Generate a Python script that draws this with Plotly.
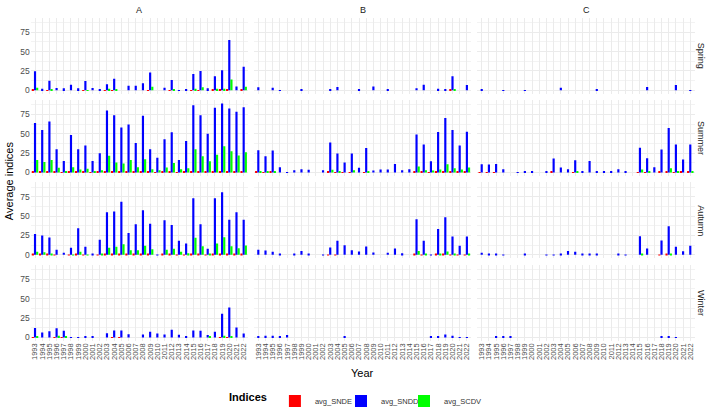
import plotly.graph_objects as go
from plotly.subplots import make_subplots

years = list(range(1993, 2023))
year_labels = [str(y) for y in years]
panels = ["A", "B", "C"]
seasons = ["Spring", "Summer", "Autumn", "Winter"]
series_names = ["avg_SNDE", "avg_SNDD", "avg_SCDV"]
series_colors = ["#FF0000", "#0000FF", "#00FF00"]
y_ticks = [0, 25, 50, 75]

Z = [0] * 30

# ---------- Panel A ----------
snde_A_spring = [1, 0, 0.5, 0, 0, 0, 0, 0.5, 0, 0, 0.5, 0.5, 0, 0, 0, 0, 0.5, 0, 0, 0.5, 0, 0, 0.5, 0.5, 0, 1, 1.5, 1, 0, 1]
sndd_A_spring = [24.5, 2, 12.4, 3, 2.5, 7, 2.5, 12, 3, 1.5, 7.7, 15, 0, 6, 6, 9, 23, 0, 3.4, 13.3, 0.5, 1.5, 21, 25, 2.5, 18, 26, 65, 5, 30.5]
scdv_A_spring = [3.4, 0, 1, 0, 0, 0, 0, 0.5, 0, 0, 2, 1.5, 0, 0, 0, 0, 4.7, 0, 0, 1.5, 0, 0, 2, 4, 0, 2, 2, 14, 0, 4.5]

snde_A_summer = [1.5, 1.5, 1.5, 1, 0.5, 1, 1, 1, 0.5, 1, 1.5, 1.5, 1.5, 1.5, 1, 1.5, 1, 0.5, 1, 1.5, 0.5, 1, 2, 1.5, 1, 2, 2, 1.5, 1.5, 1.5]
sndd_A_summer = [64, 55, 65.7, 30, 15, 48.5, 30, 34.8, 15, 25, 80, 74, 58, 62, 38, 73.4, 30, 19, 43, 52, 16.3, 40.8, 86.7, 74, 50, 83.7, 89, 82.7, 78.4, 84.4]
scdv_A_summer = [16.3, 13.7, 16, 6, 2, 6.9, 3.9, 4.7, 1, 3, 21.5, 13, 11.6, 16, 6.9, 17, 4.3, 3, 6.4, 12.4, 4.3, 5.6, 30, 21, 14.6, 23, 34, 27.4, 21.9, 26]

snde_A_autumn = [1, 1, 1, 0.3, 0, 0.3, 1, 0.3, 0, 0.5, 1, 1, 1, 1, 1, 1, 1, 0, 1, 1, 0.5, 0.5, 1.5, 1, 0.3, 1.5, 1.5, 1, 1, 1]
sndd_A_autumn = [27, 25, 22.3, 6.4, 2.6, 9, 34.3, 10.3, 1.7, 19.3, 55, 56, 68.6, 28, 39.4, 57.4, 40, 0.5, 44.6, 38.6, 18, 14.6, 72.9, 39.4, 7.7, 72.9, 80.6, 45.4, 55, 45.4]
scdv_A_autumn = [3.9, 3.4, 1.7, 0, 0, 0.5, 3.9, 0.5, 0, 1, 9, 10.3, 13.7, 6, 6, 11.6, 7.3, 0, 6.4, 7.7, 3.9, 2, 21.9, 11, 1, 14.6, 22.7, 11, 8.6, 12]

snde_A_winter = [0.3, 0, 0, 0.3, 0.3, 0, 0, 0, 0, 0, 0, 0.3, 0.3, 0, 0, 0, 0, 0, 0, 0, 0, 0, 0, 0, 0, 0, 0.5, 0.5, 0, 0]
sndd_A_winter = [12.3, 6.4, 8, 11.9, 8.5, 0.3, 0.3, 1.3, 0.8, 0, 5.5, 9, 9, 4.2, 0, 3.8, 7.2, 5, 3.8, 10, 3.4, 0.8, 9, 8.5, 3, 7.2, 30.5, 38.6, 12.7, 5]
scdv_A_winter = [1, 0, 0, 2, 1.7, 0, 0, 0, 0, 0, 0, 0, 0, 0, 0, 0, 0, 0, 0, 0, 0, 0, 0, 0, 1, 0, 2, 1.7, 0, 0]

# ---------- Panel B ----------
snde_B_spring = [0, 0, 0, 0, 0, 0, 0, 0, 0, 0, 0, 0, 0, 0, 0, 0, 0, 0, 0, 0, 0, 0, 0, 0, 0, 0, 0, 1.7, 0, 0]
sndd_B_spring = [3.9, 0, 3.4, 0.3, 0, 0, 0.8, 0, 0, 0, 0.8, 4.3, 0, 0, 0.8, 0, 5, 0, 0.8, 0, 0, 0, 2.6, 7.3, 0, 2, 1.3, 18, 0, 6.9]
scdv_B_spring = [0, 0, 0, 0, 0, 0, 0, 0, 0, 0, 0, 0, 0, 0, 0, 0, 0, 0, 0, 0, 0, 0, 0, 0, 0, 0, 0, 0.8, 0, 0]

snde_B_summer = [1, 0.5, 1, 0, 0, 0, 0, 0, 0, 0, 1, 0.5, 0.5, 0.5, 0, 0.5, 0, 0, 0, 0, 0, 0, 1, 1, 0.5, 1, 1.5, 1, 1, 1]
sndd_B_summer = [28.7, 21, 28.3, 6.9, 0.5, 3, 4.3, 3.4, 0, 3, 38.6, 24.4, 12.9, 24.4, 6, 31.7, 2.6, 3.9, 3.9, 11, 3, 4.3, 49, 36, 14.6, 52.3, 70.3, 55, 35, 52.7]
scdv_B_summer = [1.7, 1.5, 1.5, 0, 0, 0, 0, 0, 0, 0, 3.4, 1, 0, 3, 0, 1.5, 0, 0, 0, 0, 0, 0, 7.7, 3, 2.6, 3.9, 10.7, 5.6, 3.9, 6.4]

snde_B_autumn = [0, 0, 0, 0, 0, 0, 0, 0, 0, 0, 0.5, 0.5, 0, 0, 0, 0, 0, 0, 0, 0, 0, 0, 1, 0.5, 0, 1, 1, 0.5, 0.5, 0.5]
sndd_B_autumn = [6.4, 5.6, 3.9, 1.7, 0, 0.8, 5, 0.8, 0, 0.4, 9.4, 18, 12.4, 6, 4.3, 10.7, 3, 0, 2.6, 8, 2, 0, 45.9, 18, 0.5, 33.4, 48.4, 23.6, 11.6, 23.6]
scdv_B_autumn = [0, 0, 0, 0, 0, 0, 0, 0, 0, 0, 0, 0, 0, 0, 0, 0, 0, 0, 0, 0, 0, 0, 5, 1.5, 0, 1, 4.3, 1, 0, 1]

snde_B_winter = Z
sndd_B_winter = [1.3, 2, 2, 1.7, 3, 0, 0, 0, 0, 0, 0, 0, 0.8, 0, 0, 0, 0, 0, 0, 0, 0, 0, 0, 0, 0.8, 0.8, 3.8, 2, 0.4, 0.4]
scdv_B_winter = Z

# ---------- Panel C ----------
snde_C_spring = Z
sndd_C_spring = [0.8, 0, 0, 0.3, 0, 0, 0.4, 0, 0, 0, 0, 3.4, 0, 0, 0, 0, 1.3, 0, 0, 0, 0, 0, 0, 4.3, 0, 0, 0, 6.9, 0, 0.3]
scdv_C_spring = Z

snde_C_summer = [0.5, 0.5, 0.5, 0, 0, 0, 0, 0, 0, 0, 1, 0, 0, 0.5, 0, 0, 0, 0, 0, 0, 0, 0, 0.5, 0.5, 0, 1.5, 1, 0.5, 1, 1]
sndd_C_summer = [10.7, 10.3, 11, 4.3, 0, 0.3, 2, 1.3, 0, 1.7, 18, 6.4, 4.3, 15.9, 2, 15, 1.7, 2, 0.8, 4.3, 1.7, 0, 32, 18.4, 6.9, 29.6, 57.4, 36, 16.7, 36]
scdv_C_summer = [0, 0, 0, 0, 0, 0, 0, 0, 0, 0, 0, 0, 0, 1.3, 0, 0, 0, 0, 0, 0, 0, 0, 3.9, 1, 0, 0, 5.6, 2, 0, 2]

snde_C_autumn = [0, 0, 0, 0, 0, 0, 0, 0, 0, 0, 0, 0, 0, 0, 0, 0, 0, 0, 0, 0, 0, 0, 0, 0, 0, 0.5, 1, 0, 0, 0]
sndd_C_autumn = [2.6, 0.8, 0.8, 0.4, 0, 0, 1.7, 0, 0, 0.3, 0.4, 0.8, 5, 3.9, 1.3, 1.3, 1.3, 0, 0, 1.3, 0.4, 0, 24, 8, 0, 18.4, 36.9, 10.3, 4.7, 11.6]
scdv_C_autumn = [0, 0, 0, 0, 0, 0, 0, 0, 0, 0, 0, 0, 0, 0, 0, 0, 0, 0, 0, 0, 0, 0, 1, 0, 0, 0, 1, 0, 0, 0]

snde_C_winter = Z
sndd_C_winter = [0, 0, 0.8, 0.8, 0.8, 0, 0, 0, 0, 0, 0, 0, 0, 0, 0, 0, 0, 0, 0, 0, 0, 0, 0, 0, 0, 0.8, 1.3, 0.4, 0, 0]
scdv_C_winter = Z

data = {
    ("A", "Spring"): [snde_A_spring, sndd_A_spring, scdv_A_spring],
    ("A", "Summer"): [snde_A_summer, sndd_A_summer, scdv_A_summer],
    ("A", "Autumn"): [snde_A_autumn, sndd_A_autumn, scdv_A_autumn],
    ("A", "Winter"): [snde_A_winter, sndd_A_winter, scdv_A_winter],
    ("B", "Spring"): [snde_B_spring, sndd_B_spring, scdv_B_spring],
    ("B", "Summer"): [snde_B_summer, sndd_B_summer, scdv_B_summer],
    ("B", "Autumn"): [snde_B_autumn, sndd_B_autumn, scdv_B_autumn],
    ("B", "Winter"): [snde_B_winter, sndd_B_winter, scdv_B_winter],
    ("C", "Spring"): [snde_C_spring, sndd_C_spring, scdv_C_spring],
    ("C", "Summer"): [snde_C_summer, sndd_C_summer, scdv_C_summer],
    ("C", "Autumn"): [snde_C_autumn, sndd_C_autumn, scdv_C_autumn],
    ("C", "Winter"): [snde_C_winter, sndd_C_winter, scdv_C_winter],
}

W, H = 712, 416
FONT = "Liberation Sans, Arial, sans-serif"
col_px = [(30.7, 248.0), (254.0, 471.2), (477.4, 694.6)]
row_px = [(18.0, 94.2), (100.6, 176.8), (183.3, 259.5), (266.3, 342.5)]
YR = [-4.45, 93.45]
legend_ids = ["legend", "legend2", "legend3"]

fig = make_subplots(rows=4, cols=3)

for ci, p in enumerate(panels):
    for ri, s in enumerate(seasons):
        vals = data[(p, s)]
        for k in range(3):
            fig.add_trace(go.Bar(
                x=years, y=vals[k], name=series_names[k],
                marker=dict(color=series_colors[k], line=dict(width=0)),
                offsetgroup=str(k), legendgroup=series_names[k],
                legend=legend_ids[k],
                showlegend=(ci == 0 and ri == 0),
                hoverinfo="skip",
            ), row=ri + 1, col=ci + 1)
        x0, x1 = col_px[ci]
        y0, y1 = row_px[ri]
        fig.update_xaxes(
            domain=[x0 / W, x1 / W], range=[1992.4, 2022.6],
            tickvals=years, ticktext=year_labels,
            showticklabels=(ri == 3), tickangle=-90,
            tickfont=dict(size=7.5, color="#4D4D4D", family=FONT),
            showgrid=True, gridcolor="#EBEBEB", gridwidth=1,
            zeroline=False, showline=False, ticks="", automargin=False,
            fixedrange=True,
            row=ri + 1, col=ci + 1)
        fig.update_yaxes(
            domain=[1 - y1 / H, 1 - y0 / H], range=YR,
            tickvals=y_ticks, ticktext=[str(v) for v in y_ticks],
            showticklabels=(ci == 0),
            tickfont=dict(size=8.5, color="#4D4D4D", family=FONT),
            showgrid=True, gridcolor="#EBEBEB", gridwidth=1,
            minor=dict(tickvals=[12.5, 37.5, 62.5, 87.5], showgrid=True,
                       gridcolor="#F3F3F3", gridwidth=0.6),
            zeroline=False, showline=False, ticks="", automargin=False,
            fixedrange=True,
            row=ri + 1, col=ci + 1)

annotations = []
for ci, p in enumerate(panels):
    x0, x1 = col_px[ci]
    annotations.append(dict(text=p, x=(x0 + x1) / 2 / W, y=1 - 10 / H,
                            xref="paper", yref="paper", showarrow=False,
                            xanchor="center", yanchor="middle",
                            font=dict(size=9, color="#1A1A1A", family=FONT)))
for ri, s in enumerate(seasons):
    y0, y1 = row_px[ri]
    annotations.append(dict(text=s, x=701 / W, y=1 - (y0 + y1) / 2 / H,
                            xref="paper", yref="paper", showarrow=False,
                            xanchor="center", yanchor="middle",
                            textangle=90,
                            font=dict(size=9, color="#1A1A1A", family=FONT)))
annotations.append(dict(text="Year", x=(col_px[0][0] + col_px[2][1]) / 2 / W,
                        y=1 - 367 / H, xref="paper", yref="paper", showarrow=False,
                        xanchor="center", yanchor="top",
                        font=dict(size=11, color="#000000", family=FONT)))
annotations.append(dict(text="Average indices", x=9 / W,
                        y=1 - 182 / H,
                        xref="paper", yref="paper", showarrow=False, textangle=-90,
                        xanchor="center", yanchor="middle",
                        font=dict(size=11, color="#000000", family=FONT)))

leg_common = dict(orientation="h", yanchor="middle", y=1 - 403 / H,
                  font=dict(size=7.5, color="#333333", family=FONT),
                  itemwidth=30, bgcolor="rgba(0,0,0,0)")

fig.update_layout(
    width=W, height=H,
    margin=dict(l=0, r=0, t=0, b=0),
    paper_bgcolor="white", plot_bgcolor="white",
    barmode="group", bargap=0.1, bargroupgap=0,
    annotations=annotations,
    showlegend=True,
    legend=dict(**leg_common, x=358 / W, xanchor="right",
                title=dict(text="<b>Indices</b>", side="left",
                           font=dict(size=11, color="#000000", family=FONT))),
    legend2=dict(**leg_common, x=341 / W, xanchor="left"),
    legend3=dict(**leg_common, x=404 / W, xanchor="left"),
    font=dict(family=FONT),
)

fig.write_html("out.html")
